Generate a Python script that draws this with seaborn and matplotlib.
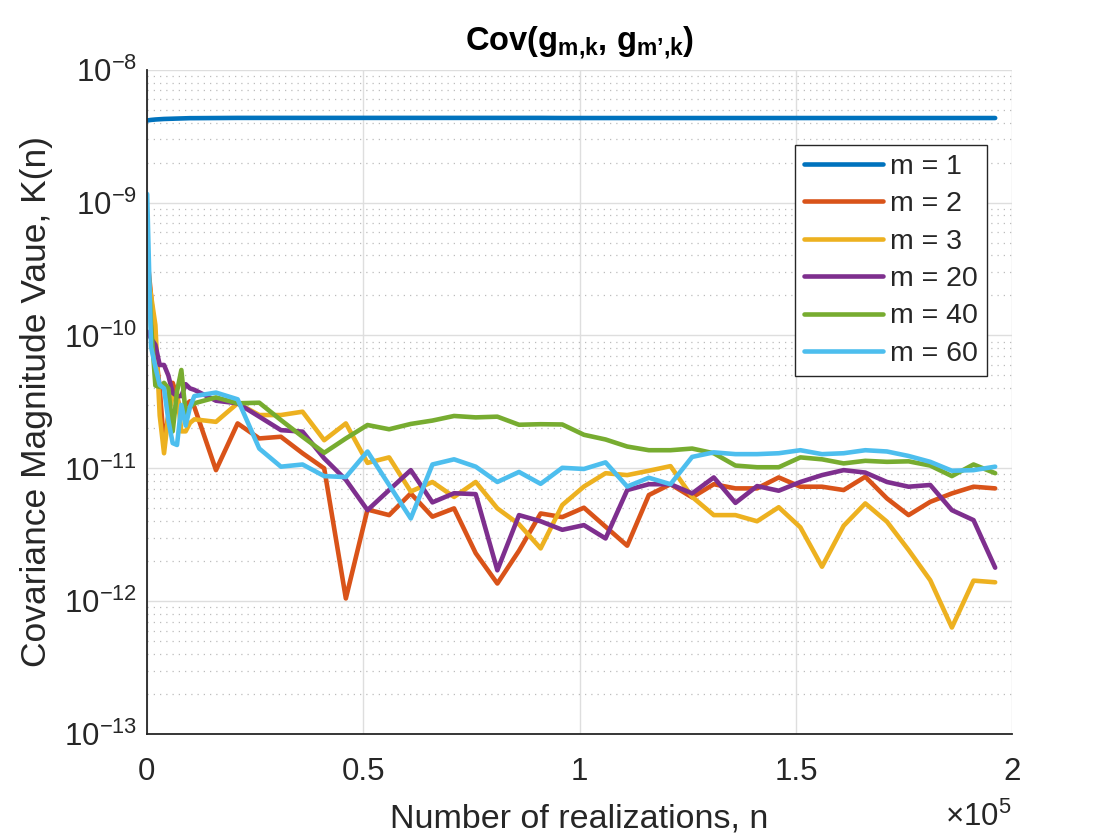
import numpy as np
import pandas as pd
import matplotlib
matplotlib.use("Agg")
import matplotlib.pyplot as plt
from matplotlib.ticker import FixedLocator, FuncFormatter, LogLocator, NullFormatter, LogFormatterSciNotation
import seaborn as sns

# ---------------- data ----------------
n_real = [100, 1000, 2000, 3000, 4000, 5000, 6000, 7000, 8000, 9000, 10000,
          11000, 16000, 21000, 26000, 31000, 36000, 41000, 46000, 51000, 56000,
          61000, 66000, 71000, 76000, 81000, 86000, 91000, 96000, 101000, 106000,
          111000, 116000, 121000, 126000, 131000, 136000, 141000, 146000, 151000,
          156000, 161000, 166000, 171000, 176000, 181000, 186000, 191000, 196000]

UNIT = 1e-12  # values below are in units of 1e-12

m1 = [4150, 4190, 4220, 4240, 4260, 4270, 4280, 4290, 4300, 4310, 4320,
      4320, 4330, 4340, 4340, 4340, 4340, 4340, 4340, 4340, 4340, 4340, 4340,
      4340, 4340, 4340, 4340, 4340, 4330, 4330, 4330, 4330, 4330, 4330, 4330,
      4330, 4330, 4330, 4330, 4330, 4330, 4330, 4330, 4330, 4330, 4330, 4330,
      4330, 4330]

m2 = [400, 200, 80, 40, 15, 25, 44, 35, 25, 30, 32,
      29, 9.7, 21.8, 16.8, 17.3, 13.0, 10.0, 1.05, 4.9, 4.45, 6.48, 4.33, 5.0,
      2.3, 1.36, 2.4, 4.58, 4.3, 5.06, 3.64, 2.62, 6.3, 7.6, 6.05, 7.6, 7.07,
      7.07, 8.55, 7.28, 7.28, 6.87, 8.65, 5.94, 4.45, 5.6, 6.48, 7.28, 7.07]

m3 = [310, 200, 120, 25, 13, 25, 35, 37, 19, 19, 22,
      23.4, 22.4, 30.9, 25.2, 25.2, 26.7, 16.3, 21.8, 11.0, 12.1, 6.7, 7.9, 6.1,
      7.9, 5.0, 3.8, 2.5, 5.3, 7.3, 9.2, 8.9, 9.6, 10.4, 6.1, 4.45, 4.45, 4.0,
      5.1, 3.6, 1.82, 3.7, 5.45, 3.97, 2.43, 1.44, 0.635, 1.43, 1.39]

m20 = [107, 95, 85, 60, 60, 50, 37, 35, 35, 43, 40,
       39, 32.3, 30.9, 24.5, 19.4, 18.9, 11.9, 8.2, 4.85, 6.87, 9.7, 5.55, 6.5,
       6.4, 1.71, 4.45, 4.0, 3.45, 3.74, 2.97, 6.87, 7.6, 7.6, 6.48, 8.55, 5.5,
       7.36, 6.79, 7.9, 8.9, 9.7, 9.3, 7.9, 7.28, 7.5, 4.85, 4.08, 1.79]

m40 = [510, 120, 42, 41, 44, 40, 19, 38, 55, 26, 29,
       30.9, 34.2, 30.9, 31.2, 23.1, 17.3, 13.1, 16.8, 21.2, 19.7, 21.6, 22.9,
       24.8, 24.2, 24.5, 21.3, 21.5, 21.4, 17.9, 16.5, 14.6, 13.7, 13.7, 14.1,
       13.0, 10.5, 10.2, 10.2, 12.1, 11.7, 10.9, 11.4, 11.2, 11.3, 10.5, 8.75,
       10.7, 9.2]

m60 = [1160, 82, 58, 42.5, 40, 23, 15.5, 15, 30, 21, 29,
       35, 37.2, 33.1, 14.1, 10.3, 10.7, 8.75, 8.6, 13.4, 7.5, 4.2, 10.7, 11.7,
       10.3, 7.9, 9.4, 7.65, 10.1, 9.9, 11.1, 7.3, 8.5, 7.6, 12.2, 13.2, 12.8,
       12.8, 13.0, 13.7, 12.8, 13.0, 13.7, 13.4, 12.4, 11.2, 9.6, 9.7, 10.3]

series_labels = ["m = 1", "m = 2", "m = 3", "m = 20", "m = 40", "m = 60"]
series_values = [m1, m2, m3, m20, m40, m60]
colors = ["#0072BD", "#D95319", "#EDB120", "#7E2F8E", "#77AC30", "#4DBEEE"]

x_ticks = [0, 50000, 100000, 150000, 200000]
y_ticks = [1e-13, 1e-12, 1e-11, 1e-10, 1e-9, 1e-8]

title_text = r"$\mathbf{Cov(g_{m{,}k}{,}\ g_{m" + "\u2019" + r"{,}k})}$"
xlabel_text = "Number of realizations, n"
ylabel_text = "Covariance Magnitude Vaue, K(n)"

# ---------------- build long-form table ----------------
frames = []
for lab, vals in zip(series_labels, series_values):
    frames.append(pd.DataFrame({"n": n_real,
                                "K": np.asarray(vals, dtype=float) * UNIT,
                                "series": lab}))
df = pd.concat(frames, ignore_index=True)

# ---------------- style ----------------
sns.set_style("white")
plt.rcParams["font.family"] = ["Liberation Sans", "DejaVu Sans"]
plt.rcParams["mathtext.fontset"] = "custom"
plt.rcParams["mathtext.rm"] = "Liberation Sans"
plt.rcParams["mathtext.it"] = "Liberation Sans:italic"
plt.rcParams["mathtext.bf"] = "Liberation Sans:bold"
plt.rcParams["axes.unicode_minus"] = False

fig = plt.figure(figsize=(11.2, 8.4), dpi=100)
ax = fig.add_axes([0.131, 0.126, 0.773, 0.791])

sns.lineplot(data=df, x="n", y="K", hue="series", hue_order=series_labels,
             palette=colors, estimator=None, sort=False, linewidth=3.3,
             ax=ax, legend=True)

ax.set_yscale("log")
ax.set_xlim(0, 200000)
ax.set_ylim(1e-13, 1e-8)

ax.xaxis.set_major_locator(FixedLocator(x_ticks))
ax.xaxis.set_major_formatter(FuncFormatter(lambda v, p: f"{v/1e5:g}"))
ax.yaxis.set_major_locator(FixedLocator(y_ticks))
ax.yaxis.set_major_formatter(LogFormatterSciNotation())
ax.yaxis.set_minor_locator(LogLocator(base=10, subs=np.arange(2, 10)))
ax.yaxis.set_minor_formatter(NullFormatter())

ax.set_axisbelow(True)
ax.grid(which="major", axis="both", color="#dedede", linewidth=1.0, linestyle="-")
ax.grid(which="minor", axis="y", color="#bcbcbc", linewidth=0.9, linestyle=(0, (1, 4)))
ax.grid(which="minor", axis="x", visible=False)

for s in ["top", "right"]:
    ax.spines[s].set_visible(False)
for s in ["left", "bottom"]:
    ax.spines[s].set_color("#262626")
    ax.spines[s].set_linewidth(1.3)

ax.tick_params(axis="both", which="major", direction="in", length=7, width=1.2,
               labelsize=22.5, colors="#262626", labelcolor="#262626")
ax.tick_params(axis="x", which="major", pad=16.5)
ax.tick_params(axis="y", which="major", pad=7)
ax.tick_params(axis="y", which="minor", direction="in", length=3.8, width=1.0,
               colors="#262626")
ax.tick_params(top=False, right=False)

ax.set_title(title_text, fontsize=23.5, pad=14, color="black")
ax.set_xlabel(xlabel_text, fontsize=24.5, color="#262626")
ax.set_ylabel(ylabel_text, fontsize=25.5, color="#262626")
ax.xaxis.set_label_coords(0.5, -0.104)
ax.yaxis.set_label_coords(-0.108, 0.5)

fig.text(0.9036, 0.008, r"$\times10^{5}$", fontsize=22.5, ha="right", va="bottom",
         color="#262626")

handles, labels = ax.get_legend_handles_labels()
leg = ax.legend(handles, labels, loc="upper right", bbox_to_anchor=(0.971, 0.887),
                fontsize=20.5, handlelength=2.77, handletextpad=0.25,
                labelspacing=0.40, borderpad=0.32, borderaxespad=0.0,
                frameon=True, fancybox=False, framealpha=1.0, edgecolor="#262626")
leg.get_frame().set_linewidth(1.0)
for ln in leg.get_lines():
    ln.set_linewidth(3.3)

fig.savefig("out.png", dpi=100)
